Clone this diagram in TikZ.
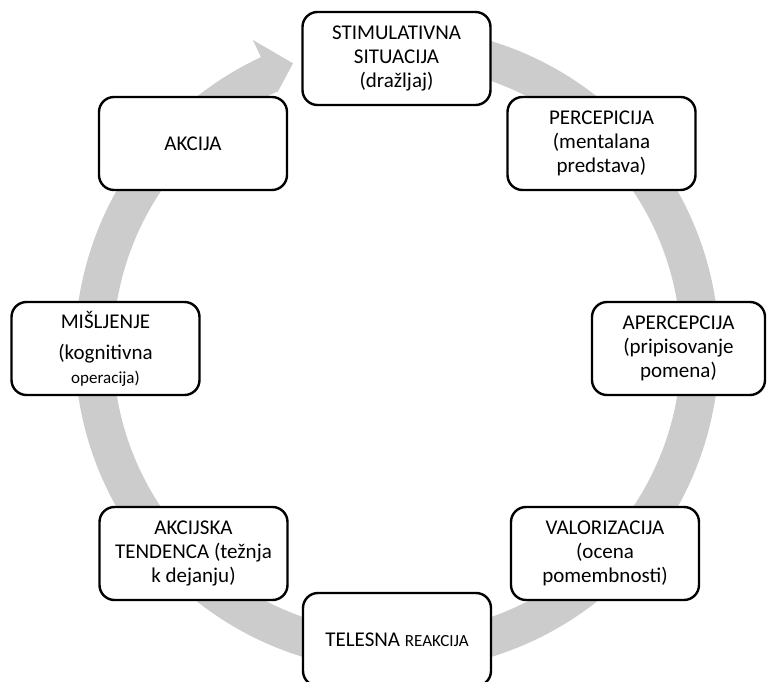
\documentclass[tikz,border=0pt]{standalone}
\usepackage{fontspec}
\setmainfont{Carlito}
\usetikzlibrary{calc}
\definecolor{ringgray}{RGB}{204,204,204}
\newcommand{\smalltxt}{\fontsize{17}{20}\selectfont}
\begin{document}
\begin{tikzpicture}[
      x=1pt, y=1pt,
      stage/.style = {shape=rectangle, rounded corners=15pt, draw, line width=2.4pt, fill=white, align=center,
                      minimum width=188pt, minimum height=93pt, inner sep=2pt, font=\fontsize{21}{24}\selectfont}
      ]
      \useasboundingbox (0,0) rectangle (769,681);
      \clip (0,0) rectangle (769,681);
      \coordinate (c) at (397,332);
      \fill[ringgray] ($(c)+(115:322)$) arc[start angle=115, end angle=457, radius=322]
        -- ($(c)+(97:284)$) arc[start angle=457, end angle=115, radius=284]
        -- ($(c)+(115:283)$) -- ($(c)+(110:304)$) -- ($(c)+(115:341)$) -- cycle;
      \node[stage] (stim) at (396.5,622.5) {STIMULATIVNA\\SITUACIJA\\(dražljaj)};
      \node[stage] (perc) at (601.5,537.5) {PERCEPICIJA\\(mentalana\\predstava)};
      \node[stage, minimum width=173pt] (aperc) at (678.5,332.5) {APERCEPCIJA\\(pripisovanje\\pomena)};
      \node[stage] (valor) at (605,127.5) {VALORIZACIJA\\(ocena\\pomembnosti)};
      \node[stage] (telesna) at (397,41.5) {TELESNA {\smalltxt REAKCIJA}};
      \node[stage] (tendenca) at (193.5,127.5) {AKCIJSKA\\TENDENCA (težnja\\k dejanju)};
      \node[stage] (misljenje) at (105.5,332.5) {MIŠLJENJE\\[7pt](kognitivna\\{\smalltxt operacija)}};
      \node[stage] (akcija) at (193,537.5) {AKCIJA};
    \end{tikzpicture}
\end{document}
